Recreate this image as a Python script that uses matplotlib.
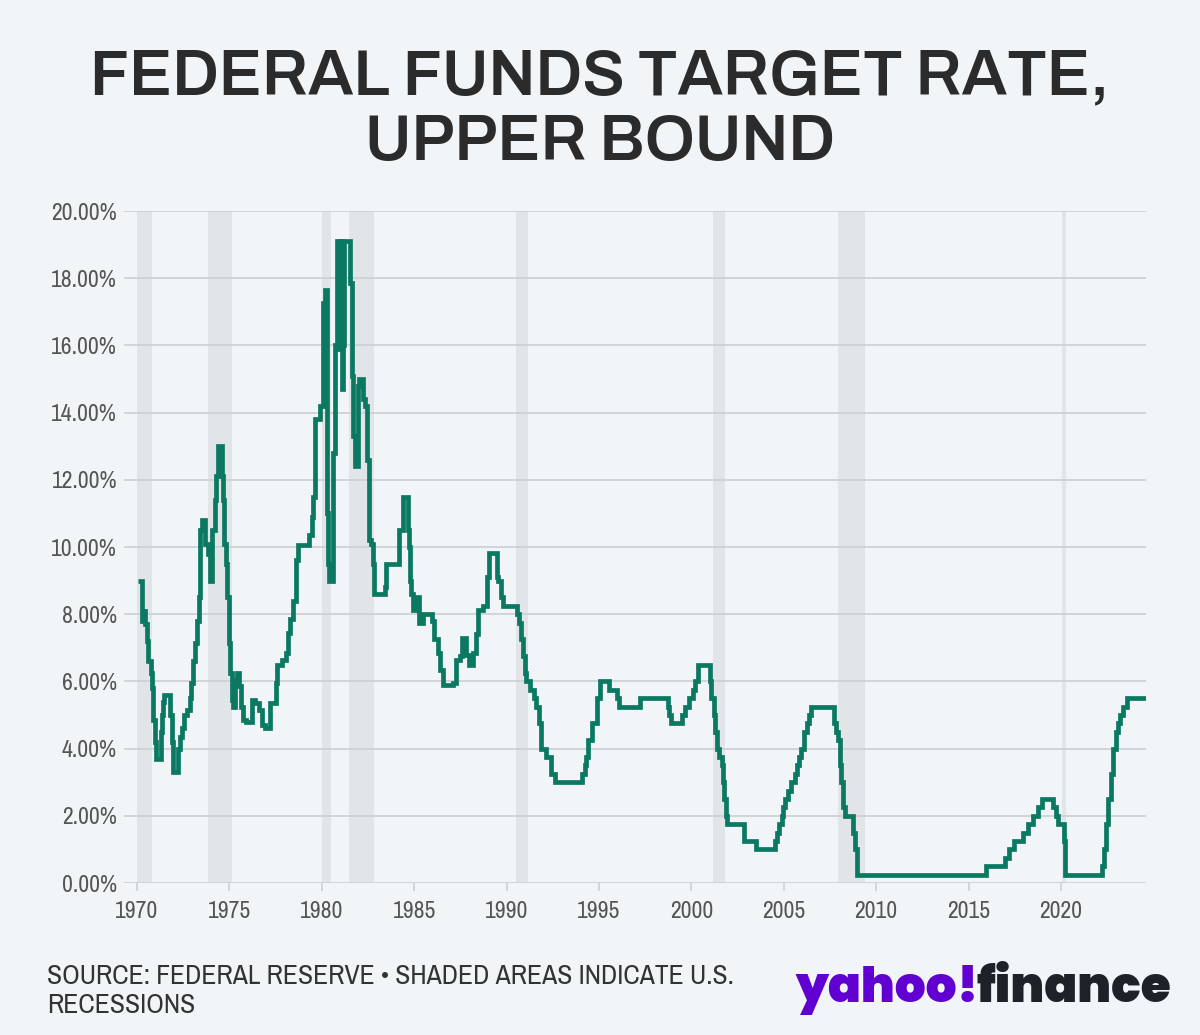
import matplotlib
matplotlib.use("Agg")
import matplotlib.pyplot as plt
import numpy as np

# ---------------- data ----------------
dates = [
    1970.08, 1970.25, 1970.33, 1970.43, 1970.52, 1970.61, 1970.74, 1970.83, 1970.88, 1970.97,
    1971.03, 1971.28, 1971.33, 1971.40, 1971.47, 1971.80, 1971.88, 1971.95, 1972.24, 1972.33,
    1972.45, 1972.55, 1972.70, 1972.85, 1972.95, 1973.05, 1973.12, 1973.25, 1973.35, 1973.42,
    1973.50, 1973.70, 1973.85, 1973.98, 1974.08, 1974.20, 1974.30, 1974.37, 1974.58, 1974.65,
    1974.72, 1974.80, 1974.87, 1974.97, 1975.05, 1975.12, 1975.18, 1975.30, 1975.42, 1975.52,
    1975.62, 1975.75, 1975.90, 1976.20, 1976.40, 1976.60, 1976.78, 1976.92, 1977.20, 1977.50,
    1977.60, 1977.85, 1978.05, 1978.15, 1978.28, 1978.42, 1978.60, 1978.72, 1979.10, 1979.30,
    1979.45, 1979.55, 1979.62, 1979.92, 1980.06, 1980.15, 1980.30, 1980.35, 1980.40, 1980.62,
    1980.70, 1980.80, 1980.95, 1981.00, 1981.08, 1981.15, 1981.22, 1981.55, 1981.62, 1981.70,
    1981.78, 1981.95, 1982.02, 1982.25, 1982.35, 1982.45, 1982.55, 1982.65, 1982.75, 1982.85,
    1983.40, 1983.50, 1984.20, 1984.42, 1984.65, 1984.72, 1984.78, 1984.85, 1984.93, 1985.02,
    1985.25, 1985.50, 1985.95, 1986.10, 1986.28, 1986.42, 1986.55, 1987.10, 1987.28, 1987.46,
    1987.60, 1987.82, 1987.95, 1988.18, 1988.32, 1988.48, 1988.70, 1988.92, 1989.03, 1989.46,
    1989.55, 1989.72, 1989.82, 1989.90, 1990.55, 1990.65, 1990.80, 1990.90, 1990.98, 1991.07,
    1991.25, 1991.50, 1991.60, 1991.78, 1991.87, 1992.14, 1992.41, 1992.60, 1994.09, 1994.22,
    1994.30, 1994.38, 1994.63, 1994.88, 1995.08, 1995.52, 1995.97, 1996.08, 1997.23, 1998.75,
    1998.80, 1998.88, 1999.50, 1999.65, 1999.88, 2000.08, 2000.22, 2000.38, 2001.01, 2001.08,
    2001.22, 2001.30, 2001.38, 2001.48, 2001.64, 2001.72, 2001.77, 2001.85, 2001.95, 2002.85,
    2003.48, 2004.50, 2004.61, 2004.72, 2004.88, 2004.97, 2005.09, 2005.22, 2005.38, 2005.60,
    2005.72, 2005.84, 2005.95, 2006.08, 2006.24, 2006.36, 2006.49, 2007.72, 2007.83, 2007.95,
    2008.06, 2008.08, 2008.21, 2008.33, 2008.77, 2008.83, 2008.96, 2015.96, 2016.96, 2017.21,
    2017.46, 2017.96, 2018.22, 2018.46, 2018.74, 2018.97, 2019.58, 2019.72, 2019.83, 2020.17,
    2020.21, 2022.21, 2022.34, 2022.46, 2022.57, 2022.72, 2022.84, 2022.96, 2023.09, 2023.21,
    2023.34, 2023.57, 2024.60,
]
rates = [
    9.00, 7.80, 8.10, 7.70, 7.20, 6.60, 6.25, 5.80, 4.85, 4.20,
    3.70, 4.50, 5.00, 5.40, 5.60, 5.00, 4.20, 3.30, 4.00, 4.35,
    4.60, 5.00, 5.15, 5.50, 5.95, 6.60, 7.15, 7.80, 8.50, 10.50,
    10.80, 10.10, 9.80, 9.00, 10.50, 11.40, 12.10, 13.00, 12.10, 11.40,
    10.10, 9.50, 8.50, 7.15, 6.25, 5.45, 5.25, 6.05, 6.25, 5.85,
    5.25, 4.85, 4.80, 5.45, 5.35, 5.15, 4.70, 4.60, 5.35, 5.95,
    6.50, 6.65, 6.85, 7.45, 7.85, 8.40, 9.60, 10.05, 10.05, 10.35,
    10.90, 11.50, 13.80, 14.20, 17.25, 17.65, 11.00, 9.50, 9.00, 12.80,
    16.00, 19.10, 15.90, 19.10, 14.70, 16.00, 19.10, 17.85, 15.10, 13.30,
    12.40, 14.80, 15.00, 14.40, 14.20, 12.60, 10.20, 10.10, 9.50, 8.60,
    8.80, 9.50, 10.50, 11.50, 10.50, 10.00, 9.00, 8.60, 8.13, 8.50,
    7.75, 8.00, 7.80, 7.25, 6.85, 6.35, 5.88, 5.94, 6.64, 6.75,
    7.30, 6.80, 6.50, 6.84, 7.40, 8.13, 8.25, 9.10, 9.81, 9.10,
    9.00, 8.50, 8.25, 8.25, 8.00, 7.75, 7.25, 6.75, 6.25, 6.00,
    5.75, 5.50, 5.25, 4.75, 4.00, 3.75, 3.25, 3.00, 3.25, 3.50,
    3.75, 4.25, 4.75, 5.50, 6.00, 5.75, 5.50, 5.25, 5.50, 5.25,
    5.00, 4.75, 5.00, 5.25, 5.50, 5.75, 6.00, 6.50, 6.00, 5.50,
    5.00, 4.50, 4.00, 3.75, 3.50, 3.00, 2.50, 2.00, 1.75, 1.25,
    1.00, 1.25, 1.50, 1.75, 2.00, 2.25, 2.50, 2.75, 3.00, 3.25,
    3.50, 3.75, 4.00, 4.50, 4.75, 5.00, 5.25, 4.75, 4.50, 4.25,
    3.50, 3.00, 2.25, 2.00, 1.50, 1.00, 0.25, 0.50, 0.75, 1.00,
    1.25, 1.50, 1.75, 2.00, 2.25, 2.50, 2.25, 2.00, 1.75, 1.25,
    0.25, 0.50, 1.00, 1.75, 2.50, 3.25, 4.00, 4.50, 4.75, 5.00,
    5.25, 5.50, 5.50,
]
recession_starts = [1970.0, 1973.85, 1980.0, 1981.5, 1990.5, 2001.17, 2007.92, 2020.08]
recession_ends = [1970.83, 1975.17, 1980.5, 1982.83, 1991.17, 2001.83, 2009.42, 2020.25]
x_ticks = [1970, 1975, 1980, 1985, 1990, 1995, 2000, 2005, 2010, 2015, 2020]
y_ticks = [0, 2, 4, 6, 8, 10, 12, 14, 16, 18, 20]

title_lines = ["FEDERAL FUNDS TARGET RATE,", "UPPER BOUND"]
source_lines = ["SOURCE: FEDERAL RESERVE \u2022 SHADED AREAS INDICATE U.S.", "RECESSIONS"]

# ---------------- style ----------------
BG = "#f2f5f8"
LINE = "#0b7862"
GRID = "#cfd2d5"
SHADE = "#e2e5e8"
TICKTXT = "#555555"
TITLE = "#2b2b2b"

title_font = ["Archivo", "Libre Franklin", "Roboto", "DejaVu Sans"]
narrow_font = ["Archivo Narrow", "Roboto Condensed", "DejaVu Sans"]
logo_font = ["Poppins", "Montserrat", "Nunito", "DejaVu Sans"]

W, H = 1200, 1035
fig = plt.figure(figsize=(W / 100, H / 100), dpi=100, facecolor=BG)
ax = fig.add_axes([124 / W, 1 - 883 / H, (1146 - 124) / W, (883 - 211) / H])
ax.set_facecolor(BG)

for s, e in zip(recession_starts, recession_ends):
    ax.axvspan(s, e, color=SHADE, lw=0, zorder=0)

for v in y_ticks:
    ax.axhline(v, color=GRID, lw=1.3, zorder=1)

ax.step(dates, rates, where="post", color=LINE, lw=3.4, zorder=3,
        solid_joinstyle="miter", solid_capstyle="butt")

ax.set_xlim(1969.30, 2024.60)
ax.set_ylim(0, 20)
for sp in ax.spines.values():
    sp.set_visible(False)
ax.set_xticks(x_ticks)
ax.set_xticklabels([str(t) for t in x_ticks])
ax.set_yticks(y_ticks)
ax.set_yticklabels([f"{v:.2f}%" for v in y_ticks])
ax.tick_params(axis="x", length=6, width=1.2, color=GRID, pad=7, labelsize=17, labelcolor=TICKTXT)
ax.tick_params(axis="y", length=0, pad=5, labelsize=17, labelcolor=TICKTXT)
for lab in ax.get_xticklabels() + ax.get_yticklabels():
    lab.set_family(narrow_font)

renderer = fig.canvas.get_renderer()

def fit(t, target_w):
    w = t.get_window_extent(renderer).width
    t.set_fontsize(t.get_fontsize() * target_w / w)

# title
t1 = fig.text(0.5, 1 - 94 / H, title_lines[0], ha="center", va="baseline", fontsize=46,
              fontweight="black", color=TITLE, family=title_font)
fit(t1, 1019)
t2 = fig.text(0.5, 1 - 160 / H, title_lines[1], ha="center", va="baseline",
              fontsize=t1.get_fontsize(), fontweight="black", color=TITLE, family=title_font)

# source
s1 = fig.text(47 / W, 1 - 984 / H, source_lines[0], ha="left", va="baseline", fontsize=16,
              color="#333333", family=narrow_font)
fit(s1, 687)
s2 = fig.text(47 / W, 1 - 1013 / H, source_lines[1], ha="left", va="baseline",
              fontsize=s1.get_fontsize(), color="#333333", family=narrow_font)

# logo
fs = 38
y_base = 1 - 1002 / H
for _ in range(2):
    la = fig.text(795 / W, y_base, "yahoo!", ha="left", va="baseline", fontsize=fs,
                  fontweight="black", color="#6001d2", family=logo_font)
    wa = la.get_window_extent(renderer).width
    lb = fig.text((795 + wa - 2) / W, y_base, "finance", ha="left", va="baseline", fontsize=fs,
                  fontweight="black", color="#1d2228", family=logo_font)
    wb = lb.get_window_extent(renderer).width
    total = wa + wb - 2
    if abs(total - 376) < 3:
        break
    la.remove()
    lb.remove()
    fs = fs * 376 / total

fig.savefig("out.png", dpi=100, facecolor=BG)
